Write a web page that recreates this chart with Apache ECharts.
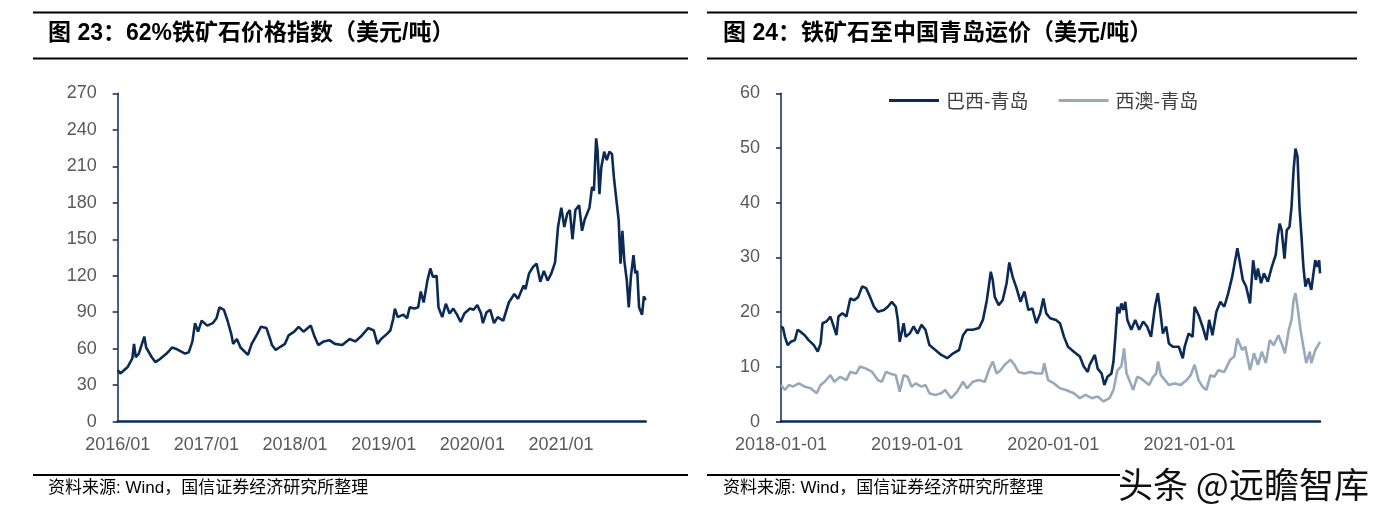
<!DOCTYPE html>
<html>
<head>
<meta charset="utf-8">
<script src="https://cdn.jsdelivr.net/npm/echarts@6/dist/echarts.min.js"></script>
<style>
html,body{margin:0;padding:0;background:#fff;}
#c{width:1384px;height:517px;}
</style>
</head>
<body>
<div id="c"></div>
<script>
// ---- Figure 23: 62% iron ore price index (USD/t) ----
const ironYears = [
2016.000,2016.029,2016.113,2016.165,2016.184,2016.204,2016.238,2016.300,2016.321,2016.384,
2016.426,2016.467,2016.551,2016.613,2016.655,2016.759,2016.801,2016.843,2016.872,2016.906,
2016.947,2017.010,2017.072,2017.114,2017.148,2017.198,2017.239,2017.281,2017.302,2017.344,
2017.385,2017.469,2017.511,2017.573,2017.615,2017.678,2017.719,2017.740,2017.782,2017.844,
2017.886,2017.928,2017.991,2018.041,2018.095,2018.178,2018.220,2018.262,2018.324,2018.387,
2018.450,2018.533,2018.616,2018.679,2018.742,2018.825,2018.888,2018.929,2018.971,2019.034,
2019.075,2019.109,2019.126,2019.159,2019.222,2019.264,2019.293,2019.347,2019.389,2019.418,
2019.451,2019.493,2019.526,2019.555,2019.597,2019.618,2019.660,2019.701,2019.743,2019.785,
2019.827,2019.868,2019.910,2019.973,2020.014,2020.056,2020.098,2020.119,2020.160,2020.202,
2020.244,2020.286,2020.348,2020.411,2020.473,2020.515,2020.578,2020.599,2020.640,2020.682,
2020.724,2020.766,2020.807,2020.849,2020.891,2020.933,2020.966,2021.003,2021.037,2021.070,
2021.099,2021.129,2021.162,2021.204,2021.237,2021.266,2021.321,2021.350,2021.371,2021.396,
2021.412,2021.433,2021.454,2021.487,2021.516,2021.546,2021.575,2021.596,2021.625,2021.650,
2021.671,2021.692,2021.713,2021.742,2021.764,2021.788,2021.817,2021.838,2021.859,2021.880,
2021.914,2021.934,2021.955
];
const ironPrice = [
42.4,39.7,45,52,64,53,56,70,61,53,
49,51,56,61,60,56,57,66,81,74,
83,79,81,85,94,92,83,72,64,68,
61,55,64,72,78,77,68,63,59,62,
64,71,74,78,74,79,70,63,66,67,
64,63,68,66,70,77,75,64,68,72,
75,85,93,86,88,85,94,93,94,107,
98,116,126,119,120,94,86,97,89,93,
88,82,89,93,92,96,89,81,90,92,
81,86,83,98,105,101,112,109,122,127,
130,115,124,116,122,131,160,176,160,171,
174,150,174,178,157,166,176,193,190,233,
223,187,209,222,215,222,220,201,182,166,
130,157,133,116,94,119,137,122,124,94,
88,103,100
];
const ironYTicks = {min: 0, max: 270, interval: 30};
const ironXLabelYears = [2016, 2017, 2018, 2019, 2020, 2021];

// ---- Figure 24: freight to Qingdao (USD/t) ----
const seriesNames = ['巴西-青岛', '西澳-青岛'];
const brYears = [
2018.000,2018.015,2018.029,2018.049,2018.073,2018.102,2018.122,2018.145,2018.174,2018.203,
2018.241,2018.270,2018.291,2018.305,2018.334,2018.363,2018.387,2018.407,2018.422,2018.451,
2018.480,2018.509,2018.538,2018.567,2018.596,2018.625,2018.654,2018.683,2018.712,2018.756,
2018.785,2018.814,2018.843,2018.858,2018.872,2018.901,2018.916,2018.945,2018.974,2019.003,
2019.032,2019.061,2019.090,2019.134,2019.177,2019.221,2019.265,2019.308,2019.337,2019.366,
2019.410,2019.454,2019.483,2019.512,2019.541,2019.555,2019.570,2019.599,2019.628,2019.657,
2019.677,2019.701,2019.730,2019.759,2019.788,2019.817,2019.846,2019.875,2019.904,2019.927,
2019.948,2019.977,2020.020,2020.049,2020.079,2020.108,2020.151,2020.195,2020.224,2020.253,
2020.267,2020.305,2020.326,2020.355,2020.375,2020.398,2020.427,2020.442,2020.456,2020.471,
2020.485,2020.500,2020.515,2020.529,2020.544,2020.573,2020.602,2020.631,2020.660,2020.689,
2020.718,2020.747,2020.768,2020.785,2020.805,2020.829,2020.849,2020.878,2020.922,2020.951,
2020.965,2020.994,2021.023,2021.038,2021.067,2021.096,2021.125,2021.145,2021.169,2021.198,
2021.227,2021.256,2021.285,2021.314,2021.334,2021.352,2021.372,2021.392,2021.416,2021.445,
2021.468,2021.488,2021.503,2021.526,2021.547,2021.576,2021.605,2021.634,2021.648,2021.663,
2021.677,2021.698,2021.715,2021.735,2021.750,2021.765,2021.779,2021.794,2021.808,2021.823,
2021.837,2021.852,2021.872,2021.895,2021.924,2021.939,2021.953,2021.959
];
const brFreight = [
17.4,17.1,15.5,14.0,14.6,14.9,16.8,16.4,15.8,14.9,
14.0,12.8,14.3,18.0,18.3,19.2,17.4,15.8,19.2,19.8,
19.2,22.5,22.2,22.8,24.7,24.4,22.8,21.0,20.1,20.4,
21.0,21.9,21.0,18.6,14.6,18.0,15.5,16.1,17.4,16.1,
17.7,16.8,14.0,13.1,12.2,11.6,12.5,13.1,15.8,16.8,
16.8,17.1,18.6,22.2,27.4,25.9,22.8,21.3,22.2,25.3,
29.1,26.5,24.4,21.9,23.8,20.4,20.7,18.0,19.8,22.5,
19.8,18.9,18.6,18.0,15.5,13.7,12.8,11.9,10.1,9.1,
10.4,12.2,9.7,8.8,6.7,8.2,8.8,11.0,15.5,21.0,
19.8,21.6,20.4,21.9,18.6,16.8,18.6,16.8,18.3,17.4,
15.5,21.0,23.5,20.4,16.1,17.4,14.3,13.7,13.7,11.6,
13.7,16.1,15.5,21.0,19.5,17.4,14.9,18.6,15.8,20.1,
21.9,21.0,23.5,26.5,29.2,31.7,28.9,25.9,24.7,21.6,
29.5,25.9,28.0,25.3,27.1,25.6,28.3,30.5,33.8,36.2,
35.0,29.8,35.0,35.6,39.3,46.0,49.9,48.4,39.3,33.8,
28.3,24.7,26.2,24.1,29.5,28.3,29.5,27.1
];
const auYears = [
2018.000,2018.029,2018.058,2018.087,2018.131,2018.174,2018.218,2018.262,2018.291,2018.320,
2018.363,2018.392,2018.436,2018.480,2018.509,2018.552,2018.581,2018.625,2018.669,2018.712,
2018.741,2018.770,2018.799,2018.843,2018.872,2018.901,2018.930,2018.959,2018.988,2019.032,
2019.061,2019.090,2019.134,2019.177,2019.206,2019.250,2019.294,2019.337,2019.366,2019.410,
2019.454,2019.497,2019.526,2019.555,2019.584,2019.613,2019.643,2019.686,2019.715,2019.744,
2019.788,2019.831,2019.875,2019.919,2019.933,2019.962,2020.006,2020.049,2020.093,2020.151,
2020.195,2020.238,2020.282,2020.326,2020.369,2020.413,2020.442,2020.471,2020.500,2020.520,
2020.538,2020.558,2020.587,2020.616,2020.645,2020.674,2020.704,2020.733,2020.756,2020.770,
2020.790,2020.820,2020.849,2020.892,2020.936,2020.980,2021.009,2021.038,2021.067,2021.096,
2021.125,2021.154,2021.183,2021.212,2021.256,2021.299,2021.329,2021.352,2021.387,2021.410,
2021.445,2021.474,2021.503,2021.532,2021.561,2021.590,2021.619,2021.654,2021.677,2021.701,
2021.730,2021.750,2021.765,2021.779,2021.794,2021.814,2021.837,2021.858,2021.884,2021.895,
2021.924,2021.939,2021.959
];
const auFreight = [
6.7,5.8,6.7,6.4,7.0,6.4,6.1,5.2,6.7,7.3,
8.5,7.3,8.2,7.6,9.1,8.8,10.1,9.7,9.1,7.6,
7.3,9.1,8.8,8.5,5.5,8.5,8.2,6.4,7.0,6.4,
6.7,5.2,4.9,5.2,5.8,4.3,5.5,7.3,6.1,7.3,
7.6,7.3,9.4,11.0,8.8,9.4,10.4,11.3,10.4,9.1,
8.8,9.1,8.8,8.8,10.7,7.6,7.0,6.1,5.8,5.2,
4.3,4.9,4.3,4.6,3.7,4.3,5.8,9.4,10.1,13.4,
8.8,7.6,5.8,8.2,7.9,7.3,6.7,8.2,8.8,11.0,
8.5,7.6,6.7,7.0,6.7,7.6,8.5,10.4,7.6,6.4,
5.8,8.5,8.2,9.4,9.1,11.3,11.9,15.2,13.1,13.7,
9.4,12.5,10.4,12.8,10.7,14.9,14.0,15.8,14.3,12.5,
16.8,18.6,22.2,23.5,21.0,17.1,13.7,10.7,12.8,10.7,
13.1,13.7,14.6
];
const freightYTicks = {min: 0, max: 60, interval: 10};
const freightXLabelYears = [2018, 2019, 2020, 2021];

const titleLeft = '图 23：62%铁矿石价格指数（美元/吨）';
const titleRight = '图 24：铁矿石至中国青岛运价（美元/吨）';
const sourceText = '资料来源: Wind，国信证券经济研究所整理';
const watermark = '头条 @远瞻智库';

const NAVY = '#0c2a56';
const GREY = '#98a9bb';
const LABEL = '#595959';
const FONT = '"Liberation Sans", Arial, "Noto Sans CJK SC", sans-serif';

const chart = echarts.init(document.getElementById('c'), null, {renderer: 'canvas'});

function yAxisCfg(gi, t) {
  return {
    type: 'value', gridIndex: gi, min: t.min, max: t.max, interval: t.interval,
    axisLine: {show: true, lineStyle: {color: NAVY, width: 1.5}},
    axisTick: {show: true, inside: false, length: 5, lineStyle: {color: NAVY, width: 1.5}},
    splitLine: {show: false},
    axisLabel: {color: LABEL, fontSize: 18, fontFamily: FONT, margin: 21}
  };
}
function xAxisCfg(gi, minY, maxY, years, fmt) {
  return {
    type: 'value', gridIndex: gi, min: minY, max: maxY, interval: 1,
    axisLine: {show: true, onZero: false, lineStyle: {color: NAVY, width: 2.5}},
    axisTick: {show: false},
    splitLine: {show: false},
    axisLabel: {
      color: LABEL, fontSize: 18, fontFamily: FONT, margin: 14,
      showMaxLabel: false,
      formatter: v => (years.indexOf(Math.round(v)) >= 0 && Math.abs(v - Math.round(v)) < 1e-6) ? fmt(Math.round(v)) : ''
    }
  };
}

const pair = (xs, ys) => xs.map((x, i) => [x, ys[i]]);

const TITLE_FONT = 'bold 23px "Liberation Sans", "Noto Sans CJK SC", sans-serif';
const SRC_FONT = '17px "Liberation Sans", "Noto Sans CJK SC", sans-serif';

const option = {
  animation: false,
  backgroundColor: '#fff',
  grid: [
    {left: 117.7, right: 738.3, top: 93.3, bottom: 95.3},
    {left: 781, right: 64, top: 93.3, bottom: 95.3}
  ],
  xAxis: [
    xAxisCfg(0, 2016, ironYears[ironYears.length - 1], ironXLabelYears, y => y + '/01'),
    xAxisCfg(1, 2018, brYears[brYears.length - 1], freightXLabelYears, y => y + '-01-01')
  ],
  yAxis: [yAxisCfg(0, ironYTicks), yAxisCfg(1, freightYTicks)],
  legend: {
    data: seriesNames,
    left: 884, top: 86,
    icon: 'rect', itemWidth: 50, itemHeight: 3, itemGap: 30,
    textStyle: {color: '#404040', fontSize: 19, fontFamily: '"Noto Sans CJK SC", sans-serif', padding: [0, 0, 0, 2]}
  },
  series: [
    {type: 'line', xAxisIndex: 0, yAxisIndex: 0, data: pair(ironYears, ironPrice),
     showSymbol: false, lineStyle: {color: NAVY, width: 2.6}, itemStyle: {color: NAVY}},
    {name: seriesNames[0], type: 'line', xAxisIndex: 1, yAxisIndex: 1, data: pair(brYears, brFreight),
     showSymbol: false, lineStyle: {color: NAVY, width: 2.6}, itemStyle: {color: NAVY}, z: 3},
    {name: seriesNames[1], type: 'line', xAxisIndex: 1, yAxisIndex: 1, data: pair(auYears, auFreight),
     showSymbol: false, lineStyle: {color: GREY, width: 2.6}, itemStyle: {color: GREY}, z: 2}
  ],
  graphic: [
    {type: 'line', shape: {x1: 33, y1: 12.5, x2: 688, y2: 12.5}, style: {stroke: '#000', lineWidth: 2}},
    {type: 'line', shape: {x1: 33, y1: 58.5, x2: 688, y2: 58.5}, style: {stroke: '#000', lineWidth: 2}},
    {type: 'line', shape: {x1: 707, y1: 12.5, x2: 1357, y2: 12.5}, style: {stroke: '#000', lineWidth: 2}},
    {type: 'line', shape: {x1: 707, y1: 58.5, x2: 1357, y2: 58.5}, style: {stroke: '#000', lineWidth: 2}},
    {type: 'line', shape: {x1: 33, y1: 475, x2: 688, y2: 475}, style: {stroke: '#000', lineWidth: 2}},
    {type: 'line', shape: {x1: 707, y1: 475, x2: 1120, y2: 475}, style: {stroke: '#000', lineWidth: 2}},
    {type: 'text', left: 48, top: 22, style: {text: titleLeft, fill: '#000', font: TITLE_FONT}},
    {type: 'text', left: 723, top: 22, style: {text: titleRight, fill: '#000', font: TITLE_FONT}},
    {type: 'text', left: 48, top: 480, style: {text: sourceText, fill: '#000', font: SRC_FONT}},
    {type: 'text', left: 723, top: 480, style: {text: sourceText, fill: '#000', font: SRC_FONT}},
    {type: 'text', left: 1117, top: 466, z: 100, style: {text: watermark, fill: '#111', stroke: '#fff', lineWidth: 2, font: '35px "Noto Sans CJK SC", sans-serif'}}
  ]
};
chart.setOption(option);
</script>
</body>
</html>
